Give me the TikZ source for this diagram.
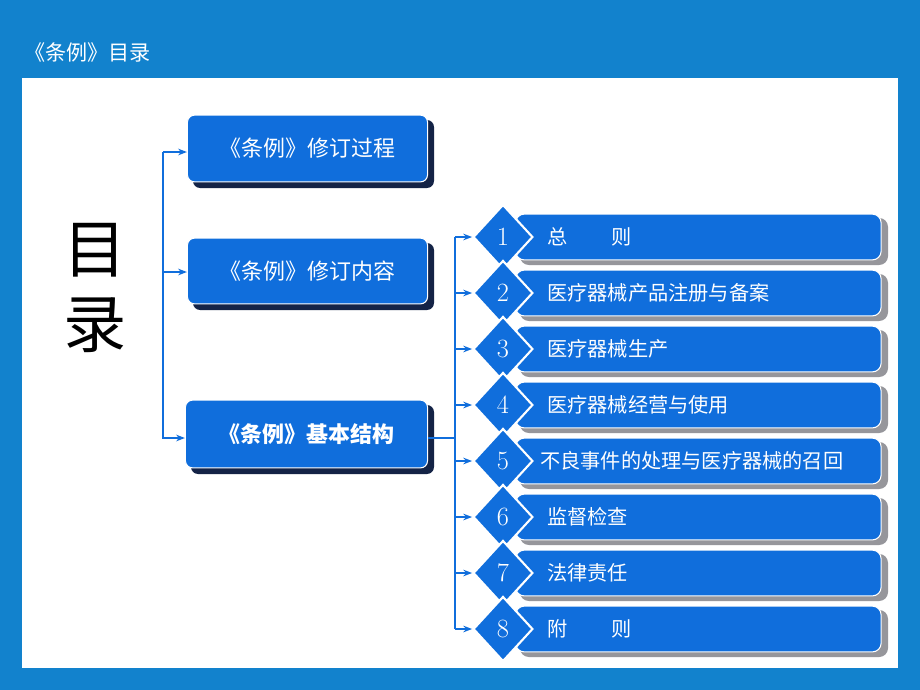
\documentclass[tikz,border=0pt]{standalone}
\usepackage{fontspec}
\newfontfamily\cjk{Noto Sans CJK SC}
\usetikzlibrary{arrows.meta, shapes.geometric, calc}
\definecolor{framecolor}{RGB}{18, 130, 205}
\definecolor{boxcolor}{RGB}{16, 110, 220}
\definecolor{shadecolor}{RGB}{150, 150, 155}
\definecolor{darkshade}{RGB}{20, 35, 70}
\tikzset{
  box/.style={fill=boxcolor, rounded corners=4pt, draw=white, line width=0.6pt,
    text=white, font=\cjk\fontsize{12.5}{14}\selectfont, inner sep=0pt},
  bar/.style={fill=boxcolor, rounded corners=5pt, draw=white, line width=0.6pt,
    text=white, font=\cjk\fontsize{11.5}{13}\selectfont, anchor=west, inner sep=0pt},
  num/.style={diamond, fill=boxcolor, draw=white, line width=1.2pt, text=white,
    minimum width=34pt, minimum height=37pt, inner sep=0pt,
    font=\fontsize{15}{16}\selectfont},
  link/.style={draw=boxcolor, line width=1.4pt, -{Stealth[length=5pt]}},
}
\begin{document}
\begin{tikzpicture}[x=0.02cm, y=-0.02cm]
  \useasboundingbox (0,0) rectangle (920,690);
  \fill[framecolor] (0,0) rectangle (920,690);
  \fill[white] (22,78) rectangle (898,668);
  \node[text=white, anchor=west, font=\cjk\fontsize{12}{14}\selectfont] (title) at (18,52) {《条例》目录};
  % big label
  \node[font=\cjk\fontsize{36}{40}\selectfont] (mu) at (95,250) {目};
  \node[font=\cjk\fontsize{36}{40}\selectfont] (lu) at (95,325) {录};
  % left boxes
  \fill[darkshade, rounded corners=4pt] (193,120) rectangle (434,188);
  \node[box, minimum width=241*0.567pt, minimum height=67*0.567pt] (revA) at (307.5,148.5) {《条例》修订过程};
  \fill[darkshade, rounded corners=4pt] (193,243) rectangle (434,310);
  \node[box, minimum width=241*0.567pt, minimum height=66*0.567pt] (revB) at (307.5,271) {《条例》修订内容};
  \fill[darkshade, rounded corners=4pt] (191,405) rectangle (434,474);
  \node[box, minimum width=243*0.567pt, minimum height=68*0.567pt, font=\cjk\bfseries\fontsize{12.5}{14}\selectfont] (revC) at (306.5,434) {《条例》基本结构};
  \coordinate (trunk) at (163,152);
  \draw[link] (trunk) -- (revA.west |- 0,152);
  \draw[link] (163,152) |- (revB.west |- 0,272);
  \draw[link] (163,152) |- (revC.west |- 0,438);
  % right list
  \coordinate (split) at (455,438);
  \draw[draw=boxcolor, line width=1.4pt] (revC.east |- split) -- (split);
  \foreach \i/\t in {1/{总\hspace{2.2em}则}, 2/医疗器械产品注册与备案, 3/医疗器械生产,
      4/医疗器械经营与使用, 5/不良事件的处理与医疗器械的召回, 6/监督检查,
      7/法律责任, 8/附\hspace{2.2em}则}{
    \pgfmathsetmacro{\yy}{237+56*(\i-1)}
    \fill[shadecolor, rounded corners=5pt] (520,\yy-19) rectangle (888,\yy+28);
    \node[bar, minimum width=367*0.567pt, minimum height=46*0.567pt] (bar\i) at (515,\yy) {};
    \node[num] (n\i) at (503,\yy) {\i};
    \node[text=white, anchor=west, font=\cjk\fontsize{11.5}{13}\selectfont] (lbl\i) at (\ifnum\i=5 534\else 541\fi,\yy) {\t};
    \draw[link] (455,\yy) -- (n\i.west);
  }
  \draw[draw=boxcolor, line width=1.4pt] (455,237) -- (455,629);
\end{tikzpicture}
\end{document}
